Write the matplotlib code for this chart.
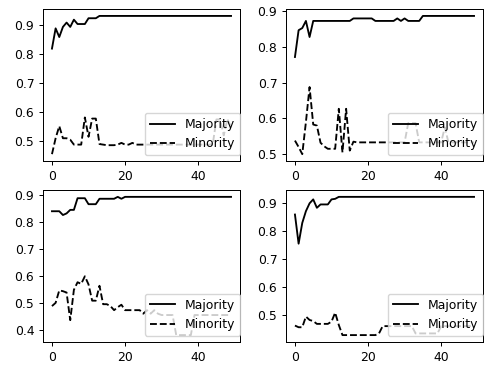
import matplotlib
matplotlib.use("Agg")
import matplotlib.pyplot as plt
import numpy as np

epochs = list(range(50))

tl_majority = [0.82, 0.89, 0.86, 0.895, 0.91, 0.895, 0.92, 0.905, 0.905, 0.905,
               0.925, 0.925, 0.925] + [0.933] * 37
tl_minority = [0.455, 0.51, 0.552, 0.51, 0.51, 0.505, 0.488, 0.488, 0.488, 0.582,
               0.515, 0.578, 0.578, 0.49, 0.488, 0.486, 0.486, 0.486, 0.488, 0.494,
               0.488, 0.488, 0.494, 0.488, 0.488] + [0.488] * 19 + \
              [0.49, 0.575, 0.575, 0.52, 0.575, 0.55]

tr_majority = [0.772, 0.847, 0.853, 0.873, 0.828] + [0.873] * 11 + [0.88] * 6 + \
              [0.873] * 6 + [0.88, 0.873, 0.88] + [0.873] * 4 + [0.887] * 15
tr_minority = [0.538, 0.52, 0.5, 0.59, 0.688, 0.583, 0.58, 0.532, 0.522, 0.515,
               0.515, 0.515, 0.627, 0.505, 0.627, 0.51, 0.535] + [0.533] * 14 + \
              [0.587] * 3 + [0.533] * 7 + [0.575] + [0.533] * 8

bl_majority = [0.84, 0.84, 0.84, 0.826, 0.832, 0.845, 0.845, 0.888, 0.888, 0.888,
               0.866, 0.866, 0.866] + [0.886] * 5 + [0.893, 0.886] + [0.893] * 30
bl_minority = [0.49, 0.502, 0.548, 0.545, 0.54, 0.438, 0.55, 0.578, 0.572, 0.6,
               0.57, 0.51, 0.51, 0.565, 0.497, 0.497, 0.49, 0.475, 0.486, 0.495,
               0.475, 0.475, 0.475, 0.475, 0.475, 0.462, 0.475, 0.462, 0.475, 0.462,
               0.457, 0.457, 0.457, 0.457] + [0.383] * 5 + [0.457] * 11

br_majority = [0.858, 0.754, 0.828, 0.87, 0.898, 0.912, 0.882, 0.894, 0.894, 0.894,
               0.912, 0.914] + [0.921] * 38
br_minority = [0.462, 0.456, 0.456, 0.494, 0.482, 0.478, 0.468, 0.468, 0.468, 0.468,
               0.476, 0.508, 0.464] + [0.428] * 10 + [0.434, 0.46] + [0.46] * 8 + \
              [0.434] * 7 + [0.46] * 10

panels = [(tl_majority, tl_minority), (tr_majority, tr_minority),
          (bl_majority, bl_minority), (br_majority, br_minority)]

s = 0.89
plt.rcParams.update({
    "font.size": 10 * s,
    "lines.linewidth": 1.5 * s,
    "axes.linewidth": 0.8 * s,
    "xtick.major.size": 3.5 * s,
    "ytick.major.size": 3.5 * s,
    "xtick.major.width": 0.8 * s,
    "ytick.major.width": 0.8 * s,
    "xtick.major.pad": 3.5 * s,
    "ytick.major.pad": 3.5 * s,
})

fig, axes = plt.subplots(2, 2, figsize=(4.86, 3.65), dpi=100)
fig.subplots_adjust(left=0.0885, right=0.9938, top=0.9753, bottom=0.063,
                    wspace=0.2335, hspace=0.19)

for ax, (maj, mino) in zip(axes.flat, panels):
    ax.plot(epochs, maj, color="black", linestyle="-", label="Majority")
    ax.plot(epochs, mino, color="black", linestyle="--", label="Minority")
    ax.legend(loc="lower right", bbox_to_anchor=(1.0, 0.04), borderaxespad=0.0)

fig.savefig("out.png", dpi=100)
